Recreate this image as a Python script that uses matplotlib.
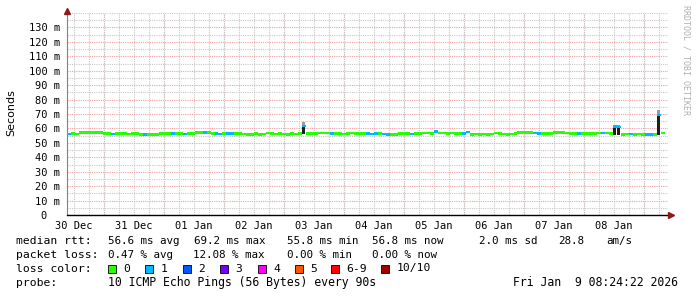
import numpy as np
import matplotlib.pyplot as plt
from matplotlib.patches import Rectangle
from matplotlib.ticker import MultipleLocator
from matplotlib.transforms import offset_copy

plt.rcParams['font.family'] = 'DejaVu Sans Mono'

# time range, in days counted from 30 Dec 00:00
start_day = 0.383   # 30 Dec 09:12
end_day = 10.35     # 09 Jan 08:24

# median rtt (ms) per consolidated sample
median_ms = [
    56.2, 56.3, 56.2, 57.0, 57.1, 57.0, 57.0, 57.1, 57.0, 56.4,
    56.3, 56.2, 56.4, 56.3, 56.3, 56.2, 56.3, 56.4, 56.0, 55.8,
    55.8, 56.0, 55.9, 56.3, 56.4, 56.3, 56.3, 56.4, 56.3, 56.2,
    56.4, 56.5, 57.0, 57.2, 57.3, 57.0, 56.5, 56.3, 56.2, 56.3,
    56.3, 56.4, 56.6, 56.3, 56.2, 55.9, 56.0, 56.6, 55.9, 56.2,
    56.8, 56.3, 56.2, 56.4, 56.2, 56.0, 56.3, 56.2, 56.3, 61.6,
    56.5, 56.4, 56.3, 56.8, 56.9, 56.8, 56.4, 56.5, 56.3, 56.2,
    56.6, 56.8, 56.7, 56.4, 56.6, 56.3, 56.2, 56.3, 56.6, 56.1,
    56.0, 55.8, 56.0, 56.3, 56.5, 56.5, 56.2, 56.5, 56.6, 56.8,
    56.8, 56.7, 57.9, 56.9, 56.8, 56.7, 56.8, 56.6, 56.4, 56.3,
    57.6, 56.0, 56.1, 56.0, 56.1, 56.0, 56.1, 56.8, 56.7, 56.1,
    56.0, 56.2, 56.3, 57.2, 57.3, 57.2, 57.0, 56.9, 56.4, 56.3,
    56.5, 56.6, 57.2, 57.3, 57.3, 56.9, 56.4, 56.3, 56.4, 56.3,
    56.5, 56.7, 56.6, 56.8, 56.9, 56.8, 56.7, 61.2, 61.0, 56.0,
    56.1, 56.2, 56.0, 56.1, 55.9, 55.7, 55.8, 55.9, 69.2, 56.8,
]
# lost pings out of 10 for each sample
loss = [
    1, 0, 0, 0, 0, 0, 0, 0, 0, 0,
    0, 1, 0, 0, 0, 0, 0, 0, 0, 1,
    0, 0, 0, 0, 0, 0, 1, 0, 0, 1,
    0, 0, 0, 0, 1, 0, 0, 1, 1, 0,
    1, 1, 0, 0, 0, 0, 0, 0, 0, 0,
    0, 0, 0, 0, 0, 0, 0, 0, 0, 1,
    0, 0, 0, 0, 0, 0, 1, 0, 0, 0,
    0, 0, 0, 0, 0, 1, 1, 1, 0, 1,
    1, 0, 0, 0, 0, 0, 1, 0, 0, 0,
    0, 0, 1, 0, 0, 0, 0, 0, 0, 1,
    1, 0, 0, 0, 0, 0, 0, 0, 0, 0,
    0, 0, 0, 0, 0, 0, 0, 1, 1, 0,
    0, 0, 0, 0, 0, 0, 0, 0, 1, 0,
    0, 0, 0, 0, 1, 0, 0, 1, 1, 0,
    0, 1, 0, 0, 0, 1, 1, 0, 1, 0,
]

# visible smoke (spread of the pings) at the few spikes
smoke_idx = [59, 137, 138, 148]
smoke_lo = [55.8, 55.4, 55.6, 55.6]
smoke_hi = [64.3, 62.2, 62.2, 72.6]

day_labels = ['30 Dec', '31 Dec', '01 Jan', '02 Jan', '03 Jan',
              '04 Jan', '05 Jan', '06 Jan', '07 Jan', '08 Jan']
y_values = list(range(0, 140, 10))
y_labels = ['0  '] + ['%d m' % v for v in y_values[1:]]

loss_labels = ['0', '1', '2', '3', '4', '5', '6-9', '10/10']
loss_colors = ['#26ff00', '#00b8ff', '#0059ff', '#7400ff',
               '#ff00ff', '#ff5500', '#ff0000', '#a10000']

W, H = 697, 297
fig = plt.figure(figsize=(W / 100, H / 100), dpi=100, facecolor='white')
ax = fig.add_axes([67 / W, 1 - 215 / H, (668 - 67) / W, (215 - 13) / H])

n = len(median_ms)
step = (end_day - start_day) / n
t = start_day + np.arange(n) * step
med = np.array(median_ms)

# smoke: light grey part above, dark part below the median
lo = np.array(smoke_lo)
hi = np.array(smoke_hi)
ax.bar(t[smoke_idx], hi - lo, bottom=lo, width=step * 0.7, align='edge',
       color='#9a9a9a', zorder=3)
ax.bar(t[smoke_idx], med[smoke_idx] - lo, bottom=lo, width=step * 0.7,
       align='edge', color='#1e1e1e', zorder=4)

# median line, coloured by packet loss
def loss_color(k):
    if k <= 5:
        return loss_colors[k]
    if k < 10:
        return loss_colors[6]
    return loss_colors[7]

thick = 1.85
ax.bar(t, thick, bottom=med - thick / 2, width=step, align='edge',
       color=[loss_color(k) for k in loss], linewidth=0, zorder=5)

ax.set_xlim(start_day, 10.4)
ax.set_ylim(0, 140)

# grid: grey every 6 h / 5 ms, red at midnight / 10 ms
ax.set_xticks(np.arange(len(day_labels)) + 0.5, day_labels)
ax.xaxis.set_minor_locator(MultipleLocator(0.25))
ax.set_yticks(y_values, y_labels)
ax.yaxis.set_minor_locator(MultipleLocator(5))
grey = dict(color='#c8c8c8', linestyle=(0, (1, 1)), linewidth=0.8)
red = dict(color='#f0a0a0', linestyle=(0, (1, 1)), linewidth=0.8)
ax.grid(which='both', axis='x', **grey)
ax.grid(which='minor', axis='y', **grey)
ax.grid(which='major', axis='y', **red)
for d in range(1, 11):
    ax.axvline(d, zorder=0.5, **red)
ax.set_axisbelow(True)

ax.tick_params(which='both', length=0)
ax.tick_params(axis='y', pad=5, labelsize=7.5)
ax.tick_params(axis='x', pad=4, labelsize=7.5)

for s in ['top', 'right']:
    ax.spines[s].set_visible(False)
ax.spines['left'].set_color('#808080')
ax.spines['left'].set_linewidth(0.8)
ax.spines['bottom'].set_color('black')
ax.spines['bottom'].set_linewidth(1.0)

# arrow heads on the axes
ax.plot([0], [1], marker='^', ms=5, color='#8b1a1a', clip_on=False, zorder=6,
        transform=offset_copy(ax.transAxes, fig=fig, x=0, y=2.5, units='dots'))
ax.plot([1], [0], marker='>', ms=5, color='#8b1a1a', clip_on=False, zorder=6,
        transform=offset_copy(ax.transAxes, fig=fig, x=2.5, y=0, units='dots'))

fig.text(11 / W, 1 - 113 / H, 'Seconds', rotation=90, family='DejaVu Sans',
         fontsize=8, ha='center', va='center')
fig.text(686 / W, 1 - 60 / H, 'RRDTOOL / TOBI OETIKER', rotation=270,
         fontsize=6, color='#b0b0b0', ha='center', va='center')

# legend block under the graph
def put(x, y, s, fs=7.8):
    fig.text(x / W, 1 - y / H, s, fontsize=fs, ha='left', va='center')

put(16, 241, 'median rtt:', fs=8.2)
rtt_text = ['56.6 ms avg', '69.2 ms max', '55.8 ms min',
            '56.8 ms now', '2.0 ms sd', '28.8', 'am/s']
rtt_x = [107.6, 194, 286.7, 372.4, 479, 557.8, 606.7]
for x, s in zip(rtt_x, rtt_text):
    put(x, 241, s)

put(16, 255, 'packet loss:', fs=8.2)
loss_text = ['0.47 % avg', '12.08 % max', '0.00 % min', '0.00 % now']
loss_x = [107.6, 193.3, 286.7, 372.4]
for x, s in zip(loss_x, loss_text):
    put(x, 255, s)

put(16, 268.5, 'loss color:', fs=8.2)
box_x = [108, 145.3, 182.7, 220, 257.8, 294.7, 330.7, 381.3]
for x, lab, c in zip(box_x, loss_labels, loss_colors):
    fig.add_artist(Rectangle((x / W, 1 - 273 / H), 8 / W, 8 / H,
                             transform=fig.transFigure, facecolor=c,
                             edgecolor='black', linewidth=0.6))
    put(x + 15.6, 268.5, lab, fs=8.2)

put(16, 282.5, 'probe:', fs=8.2)
put(107.6, 282.5, '10 ICMP Echo Pings (56 Bytes) every 90s', fs=8.3)
put(513.3, 282.5, 'Fri Jan  9 08:24:22 2026', fs=8.3)

fig.savefig('out.png', dpi=100, facecolor='white')
